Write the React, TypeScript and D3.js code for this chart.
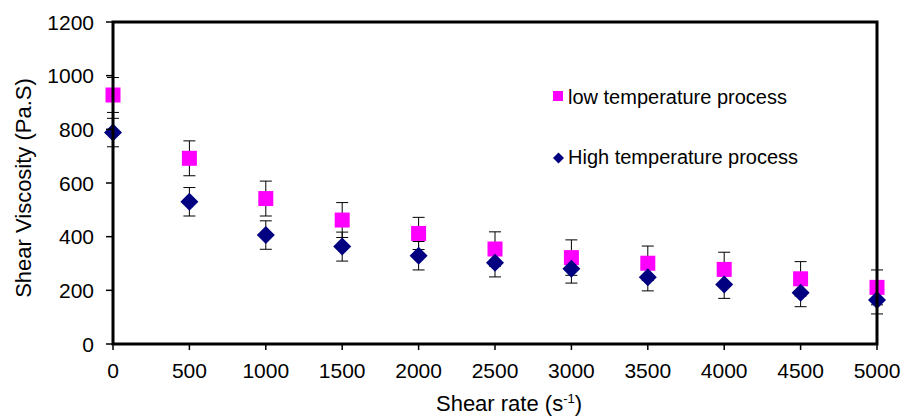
import React from "react";
import * as d3 from "d3";

const shearRates = [0, 500, 1000, 1500, 2000, 2500, 3000, 3500, 4000, 4500, 5000];
const lowTemp = [928, 692, 542, 462, 412, 354, 322, 301, 278, 243, 211];
const lowTempErr = [65, 65, 65, 65, 60, 64, 66, 64, 64, 64, 65];
const highTemp = [788, 530, 406, 363, 329, 303, 280, 249, 222, 191, 164];
const highTempErr = [53, 53, 53, 54, 53, 53, 53, 51, 52, 52, 52];
const xTicks = [0, 500, 1000, 1500, 2000, 2500, 3000, 3500, 4000, 4500, 5000];
const yTicks = [0, 200, 400, 600, 800, 1000, 1200];
const seriesNames = ["low temperature process", "High temperature process"];

const W = 901;
const H = 417;
const L = 113, R = 877, T = 22, B = 344;
const FONT = "'Liberation Sans', Arial, sans-serif";

export default function App() {
  const x = d3.scaleLinear().domain([0, 5000]).range([L, R]);
  const y = d3.scaleLinear().domain([0, 1200]).range([B, T]);
  const diamond = (cx: number, cy: number, r: number) =>
    `M${cx},${cy - r}L${cx + r},${cy}L${cx},${cy + r}L${cx - r},${cy}Z`;

  const errBars = (vals: number[], errs: number[], key: string) =>
    vals.map((v, i) => {
      const cx = x(shearRates[i]);
      const y1 = y(v + errs[i]);
      const y2 = y(v - errs[i]);
      return (
        <g key={key + i} stroke="#000" strokeWidth={1}>
          <line x1={cx} x2={cx} y1={y1} y2={y2} />
          <line x1={cx - 6} x2={cx + 6} y1={y1} y2={y1} />
          <line x1={cx - 6} x2={cx + 6} y1={y2} y2={y2} />
        </g>
      );
    });

  return (
    <svg width={W} height={H} style={{ position: "absolute", left: 0, top: 0, background: "#fff" }}>
      <rect x={0} y={0} width={W} height={H} fill="#fff" />
      {errBars(lowTemp, lowTempErr, "le")}
      {errBars(highTemp, highTempErr, "he")}
      {lowTemp.map((v, i) => (
        <rect key={"l" + i} x={x(shearRates[i]) - 7.5} y={y(v) - 7.5} width={15} height={15} fill="#FF00FF" />
      ))}
      {highTemp.map((v, i) => (
        <path key={"h" + i} d={diamond(x(shearRates[i]), y(v), 9)} fill="#000080" />
      ))}
      {/* frame */}
      <rect x={L} y={T} width={R - L} height={B - T} fill="none" stroke="#000" strokeWidth={3} />
      {yTicks.map((t) => (
        <g key={"yt" + t}>
          <line x1={L - 7} x2={L} y1={y(t)} y2={y(t)} stroke="#000" strokeWidth={1.5} />
          <text x={94} y={y(t)} dy="0.36em" textAnchor="end" fontFamily={FONT} fontSize={21} fill="#000">
            {t}
          </text>
        </g>
      ))}
      {xTicks.map((t) => (
        <g key={"xt" + t}>
          <line x1={x(t)} x2={x(t)} y1={B} y2={B + 6} stroke="#000" strokeWidth={1.5} />
          <text x={x(t)} y={377.5} textAnchor="middle" fontFamily={FONT} fontSize={21} fill="#000">
            {t}
          </text>
        </g>
      ))}
      <text
        transform={`translate(31,188) rotate(-90)`}
        textAnchor="middle"
        fontFamily={FONT}
        fontSize={22}
        fill="#000"
      >
        Shear Viscosity (Pa.S)
      </text>
      <text x={509} y={411} textAnchor="middle" fontFamily={FONT} fontSize={22} fill="#000">
        Shear rate (s<tspan dy={-8} fontSize={13}>-1</tspan>
        <tspan dy={8}>)</tspan>
      </text>
      {/* legend */}
      <rect x={553} y={91} width={10} height={10} fill="#FF00FF" />
      <text x={568} y={104} fontFamily={FONT} fontSize={20} fill="#000">
        {seriesNames[0]}
      </text>
      <path d={diamond(558.5, 158, 5.5)} fill="#000080" />
      <text x={568} y={164} fontFamily={FONT} fontSize={20} fill="#000">
        {seriesNames[1]}
      </text>
    </svg>
  );
}
